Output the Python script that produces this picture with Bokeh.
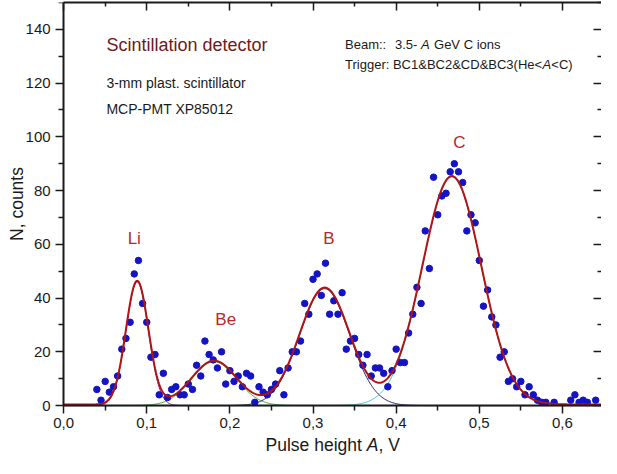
import numpy as np
from bokeh.plotting import figure
from bokeh.models import Range1d, LinearAxis, FixedTicker, Label, CustomJSTickFormatter
from bokeh.embed import file_html
from bokeh.resources import INLINE

# ---- measured histogram (pulse height A [V], counts) ----
pulse_height = [0.040, 0.045, 0.050, 0.055, 0.060, 0.065, 0.070, 0.075, 0.080, 0.085,
                0.090, 0.095, 0.100, 0.105, 0.110, 0.115, 0.120, 0.125, 0.130, 0.135,
                0.140, 0.145, 0.150, 0.155, 0.160, 0.165, 0.170, 0.175, 0.180, 0.185,
                0.190, 0.195, 0.200, 0.205, 0.210, 0.215, 0.220, 0.225, 0.230, 0.235,
                0.240, 0.245, 0.250, 0.255, 0.260, 0.265, 0.270, 0.275, 0.280, 0.285,
                0.290, 0.295, 0.300, 0.305, 0.310, 0.315, 0.320, 0.325, 0.330, 0.335,
                0.340, 0.345, 0.350, 0.355, 0.360, 0.365, 0.370, 0.375, 0.380, 0.385,
                0.390, 0.395, 0.400, 0.405, 0.410, 0.415, 0.420, 0.425, 0.430, 0.435,
                0.440, 0.445, 0.450, 0.455, 0.460, 0.465, 0.470, 0.475, 0.480, 0.485,
                0.490, 0.495, 0.500, 0.505, 0.510, 0.515, 0.520, 0.525, 0.530, 0.535,
                0.540, 0.545, 0.550, 0.555, 0.560, 0.565, 0.570, 0.575, 0.580, 0.590,
                0.610, 0.615, 0.620, 0.625, 0.630, 0.640]
counts = [6, 2, 9, 5, 7, 11, 21, 25, 31, 49,
          54, 38, 31, 18, 19, 4, 12, 3, 6, 7,
          4, 4, 8, 6, 15, 11, 24, 19, 17, 14,
          20, 8, 13, 9, 11, 7, 12, 11, 1.2, 7,
          5, 4, 6, 8, 13, 4, 14, 20, 20, 24,
          38, 34, 47, 49, 41, 53, 34, 39, 34, 42,
          21, 24, 25, 19, 15, 19, 11, 14, 14, 12,
          7, 13, 21, 16, 16, 27, 34, 44, 38, 65,
          51, 85, 71, 78, 79, 87, 90, 87, 83, 65,
          71, 68, 54, 37, 43, 33, 30, 18, 20, 9,
          10, 7, 9, 4, 7, 4, 2, 1.2, 1.2, 1.2,
          2, 4, 1.2, 2, 1.2, 2]

# ---- Gaussian fit components ----
peak_names = ["Li", "Be", "B", "C"]
peak_centers = [0.0885, 0.181, 0.314, 0.467]
peak_sigmas = [0.0135, 0.027, 0.030, 0.0355]
peak_amps = [46.0, 16.3, 43.5, 85.0]
fit_baseline = 0.4
component_colors = ["#8a1aa0", "#3aa83a", "#1c1c70", "#38c8d0"]

# ---- peak label positions ----
peak_label_x = [0.085, 0.195, 0.319, 0.476]
peak_label_y = [62, 32, 62, 98]

# ---- ticks ----
x_ticks = [0.0, 0.1, 0.2, 0.3, 0.4, 0.5, 0.6]
x_tick_labels = ["0,0", "0,1", "0,2", "0,3", "0,4", "0,5", "0,6"]
x_minor = [0.05, 0.15, 0.25, 0.35, 0.45, 0.55, 0.65]
y_ticks = [0, 20, 40, 60, 80, 100, 120, 140]
y_minor = [10, 30, 50, 70, 90, 110, 130, 150]

FONT = "Liberation Sans"
AXC = "#1a1a1a"
X_LOW, X_HIGH = -0.0759, 0.647
Y_LOW, Y_HIGH = -19.7, 150

p = figure(width=601, height=458, x_range=Range1d(X_LOW, X_HIGH), y_range=Range1d(Y_LOW, Y_HIGH),
           output_backend="svg", toolbar_location=None,
           min_border_left=0, min_border_right=0, min_border_top=2, min_border_bottom=0)
p.grid.visible = False
p.outline_line_color = None
p.background_fill_color = "white"

# bottom axis, drawn at y = 0 inside the frame
xa = p.xaxis[0]
xa.fixed_location = 0
xa.bounds = (0, X_HIGH)
xa.ticker = FixedTicker(ticks=x_ticks, minor_ticks=x_minor)
xa.formatter = CustomJSTickFormatter(args=dict(tk=x_ticks, lb=x_tick_labels), code="""
    for (let i = 0; i < tk.length; i++) { if (Math.abs(tk[i] - tick) < 1e-9) return lb[i]; }
    return "";
""")
# left axis, drawn at x = 0 inside the frame
ya = p.yaxis[0]
ya.fixed_location = 0
ya.bounds = (0, Y_HIGH)
ya.ticker = FixedTicker(ticks=y_ticks, minor_ticks=y_minor)
ya.axis_label = "N, counts"
ya.axis_label_text_font_style = "normal"
ya.axis_label_text_font_size = "17.5px"
ya.axis_label_text_font = FONT
ya.axis_label_text_color = AXC
ya.axis_label_standoff = -5

for ax in (xa, ya):
    ax.axis_line_width = 2
    ax.axis_line_color = AXC
    ax.major_tick_line_color = AXC
    ax.minor_tick_line_color = AXC
    ax.major_tick_line_width = 1.5
    ax.minor_tick_line_width = 1.5
    ax.major_tick_out = 8
    ax.major_tick_in = 0
    ax.minor_tick_out = 5
    ax.minor_tick_in = 0
    ax.major_label_text_font_size = "15px"
    ax.major_label_text_font = FONT
    ax.major_label_text_color = AXC
    ax.major_label_standoff = 5
xa.major_label_standoff = 4

blank = CustomJSTickFormatter(code='return "";')
# top and right axes: ticks only, pointing inward
top = LinearAxis(ticker=FixedTicker(ticks=x_ticks, minor_ticks=x_minor), formatter=blank,
                 bounds=(0, X_HIGH))
right = LinearAxis(ticker=FixedTicker(ticks=y_ticks, minor_ticks=y_minor), formatter=blank,
                   bounds=(0, Y_HIGH))
for ax in (top, right):
    ax.major_tick_in = 8
    ax.major_tick_out = 0
    ax.minor_tick_in = 4
    ax.minor_tick_out = 0
    ax.major_tick_line_width = 1.5
    ax.minor_tick_line_width = 1.5
    ax.major_tick_line_color = AXC
    ax.minor_tick_line_color = AXC
    ax.major_label_standoff = 0
top.axis_line_width = 2
top.axis_line_color = AXC
right.axis_line_color = None
p.add_layout(top, "above")
p.add_layout(right, "right")

# fit curves
xs = np.linspace(0, X_HIGH, 700)
comps = [a * np.exp(-(xs - c) ** 2 / (2 * s ** 2)) for a, c, s in zip(peak_amps, peak_centers, peak_sigmas)]
for comp, col in zip(comps, component_colors):
    p.line(xs, comp, line_color=col, line_width=1)
total = fit_baseline + sum(comps)

p.scatter(pulse_height, counts, size=6.5, fill_color="#1414c4", line_color="#1414c4")
p.line(xs, total, line_color="#b01414", line_width=2)

# peak labels
for name, lx, ly in zip(peak_names, peak_label_x, peak_label_y):
    p.add_layout(Label(x=lx, y=ly, text=name, text_align="center", text_baseline="middle",
                       text_font=FONT, text_font_size="17px", text_color="#b8282a"))

def lab(x, y, text, size, color=AXC, style="normal", xoff=0, align="left"):
    p.add_layout(Label(x=x, y=y, text=text, x_offset=xoff, text_align=align, text_baseline="middle",
                       text_font=FONT, text_font_size=size, text_color=color, text_font_style=style))

lab(0.0515, 134.0, "Scintillation detector", "18px", color="#6e1a1c")
lab(0.0515, 120.2, "3-mm plast. scintillator", "14px")
lab(0.0515, 110.3, "MCP-PMT XP85012", "14px")

lab(0.3385, 134.4, "Beam::", "13px")
lab(0.3385, 134.4, "3.5-", "13px", xoff=50)
lab(0.3385, 134.4, "A", "13px", style="italic", xoff=76)
lab(0.3385, 134.4, "GeV C ions", "13px", xoff=89)
lab(0.3385, 127.0, "Trigger: BC1&BC2&CD&BC3(He<", "13px")
lab(0.3385, 127.0, "A", "13px", style="italic", xoff=197.6)
lab(0.3385, 127.0, "<C)", "13px", xoff=206.3)

# x axis title with italic A
xc = 0.3235
ty = -14.8
lab(xc, ty, "Pulse height", "17.5px", xoff=-67)
lab(xc, ty, "A", "17.5px", style="italic", xoff=34.2)
lab(xc, ty, ", V", "17.5px", xoff=45.9)

open("out.html", "w").write(file_html(p, INLINE))
